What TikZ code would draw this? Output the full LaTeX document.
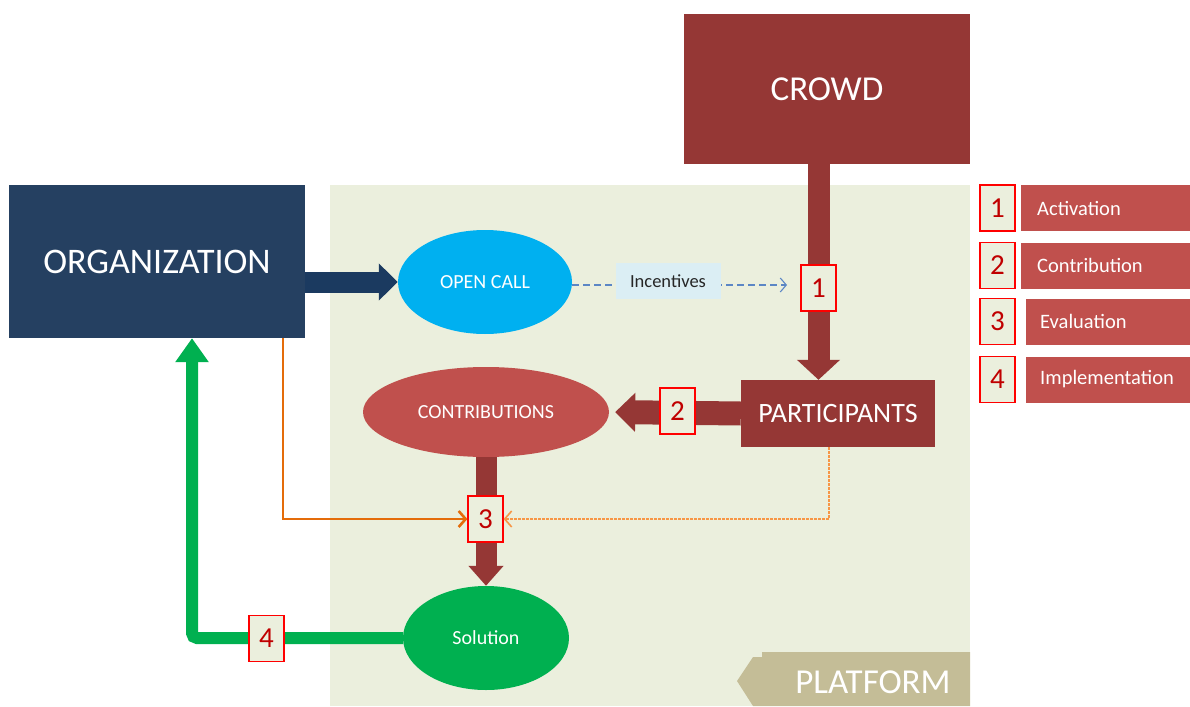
\documentclass[tikz,border=0pt]{standalone}
\usepackage{fontspec}
\setmainfont{Carlito}
\usetikzlibrary{shapes.geometric,arrows.meta,calc}
\definecolor{crowdred}{HTML}{953735}
\definecolor{orgnavy}{HTML}{254061}
\definecolor{arrnavy}{HTML}{1B3A60}
\definecolor{platbg}{HTML}{EBEFDD}
\definecolor{callblue}{HTML}{00B0F0}
\definecolor{incbg}{HTML}{DBEEF4}
\definecolor{contrred}{HTML}{C0504D}
\definecolor{solgreen}{HTML}{00B050}
\definecolor{tan}{HTML}{C4BD97}
\definecolor{numred}{HTML}{FF0000}
\definecolor{numtext}{HTML}{C00000}
\definecolor{dashblue}{HTML}{5B86C5}
\definecolor{orangeA}{HTML}{E46C0A}
\definecolor{orangeB}{HTML}{F79646}
\tikzset{
  bigbox/.style={rectangle, text=white, inner sep=0pt},
  ellnode/.style={ellipse, text=white, inner sep=0pt, font=\fontsize{20}{24}\selectfont},
  numbox/.style={rectangle, draw=numred, line width=1.2pt, fill=platbg, text=numtext,
     minimum width=35pt, minimum height=46pt, inner sep=0pt, font=\fontsize{29}{32}\selectfont},
  legbox/.style={rectangle, fill=contrred, text=white, anchor=west, minimum height=46pt,
     align=left, font=\fontsize{20.5}{24}\selectfont},
}
\begin{document}
\begin{tikzpicture}[x=1pt,y=-1pt]
\useasboundingbox (0,0) rectangle (1190,706);
% platform background
\fill[platbg] (330,185) rectangle (970,706);
% platform tag
\fill[tan] (970,652) -- (762,652) -- (762,657) -- (753,657) -- (737,681) -- (753,706) -- (970,706) -- cycle;
\node[text=white, font=\fontsize{35}{40}\selectfont, inner sep=0pt] (platform) at (873,682) {PLATFORM};

% main nodes
\node[bigbox, fill=crowdred, minimum width=286pt, minimum height=150pt, font=\fontsize{35}{40}\selectfont] (crowd) at (827,89) {CROWD};
\node[bigbox, fill=orgnavy, minimum width=296pt, minimum height=153pt, font=\fontsize{36}{40}\selectfont] (org) at (157,261.5) {ORGANIZATION};
\node[ellnode, fill=callblue, minimum width=174pt, minimum height=104pt] (opencall) at (485,282) {OPEN CALL};
\node[bigbox, fill=crowdred, minimum width=194pt, minimum height=67pt, font=\fontsize{28}{32}\selectfont] (participants) at (838,413.5) {PARTICIPANTS};
\node[ellnode, fill=contrred, minimum width=246pt, minimum height=90pt] (contrib) at (486,412) {CONTRIBUTIONS};
\node[ellnode, fill=solgreen, minimum width=166pt, minimum height=104pt] (solution) at (486,638) {Solution};

% marker positions
\coordinate (p1) at (818.5,288);
\coordinate (p2) at (677.5,411);
\coordinate (p3) at (485.5,519);
\coordinate (p4) at (266.5,638.5);

% organization -> open call
\draw[arrnavy, line width=21pt, -{Triangle[width=36pt,length=19pt]}] (org.east |- opencall.west) -- (opencall.west);

% open call -> incentives -> 1 (dashed)
\coordinate (dashend) at (787,285);
\draw[dashblue, line width=1.1pt, dash pattern=on 7pt off 4pt, -{Straight Barb[length=6pt,width=14pt]}] (opencall.east |- dashend) -- (dashend);
\node[fill=incbg, text=black!85, minimum width=105pt, minimum height=36pt, inner sep=0pt, font=\fontsize{18.5}{22}\selectfont] (incent) at (668,281) {Incentives};

% crowd -> participants
\draw[crowdred, line width=22pt, -{Triangle[width=42pt,length=20pt]}] (crowd.south -| p1) -- (participants.north -| p1);

% participants -> contributions
\draw[crowdred, line width=24pt, shorten >=6pt, -{Triangle[width=38pt,length=20pt]}] (participants.west) -- (contrib.east);

% contributions -> solution
\draw[crowdred, line width=21pt, -{Triangle[width=34pt,length=20pt]}] (contrib.south) -- (solution.north);

% number box 3 and orange lines into it
\node[numbox] (n3) at (p3) {3};
\draw[orangeA, line width=2.6pt, -{Straight Barb[length=7pt,width=16pt]}] ([xshift=126pt]org.south) |- (n3.west);
\draw[orangeB, line width=1.6pt, dash pattern=on 2.5pt off 1.5pt, -{Straight Barb[length=7pt,width=16pt]}] ([xshift=-9pt]participants.south) |- (n3.east);

% solution -> organization (green)
\draw[solgreen, line width=12pt, rounded corners=5pt, -{Triangle[width=32pt,length=24pt]}] (solution.west) -| ([xshift=35pt]org.south);

% number boxes on connectors
\node[numbox] (n1) at (p1) {1};
\node[numbox] (n2) at (p2) {2};
\node[numbox] (n4) at (p4) {4};

% legend
\node[numbox] (l1n) at (997.5,208) {1};
\node[legbox, minimum width=169pt, text width=137pt, inner xsep=16pt] (l1) at (1021,208) {Activation};
\node[numbox] (l2n) at (997.5,265.5) {2};
\node[legbox, minimum width=169pt, text width=137pt, inner xsep=16pt] (l2) at (1021,265.5) {Contribution};
\node[numbox] (l3n) at (997.5,321.5) {3};
\node[legbox, minimum width=164pt, text width=136pt, inner xsep=14pt] (l3) at (1026,321.5) {Evaluation};
\node[numbox] (l4n) at (997.5,379.5) {4};
\node[legbox, minimum width=164pt, text width=136pt, inner xsep=14pt] (l4) at (1026,379.5) {Implementation};
\end{tikzpicture}
\end{document}
